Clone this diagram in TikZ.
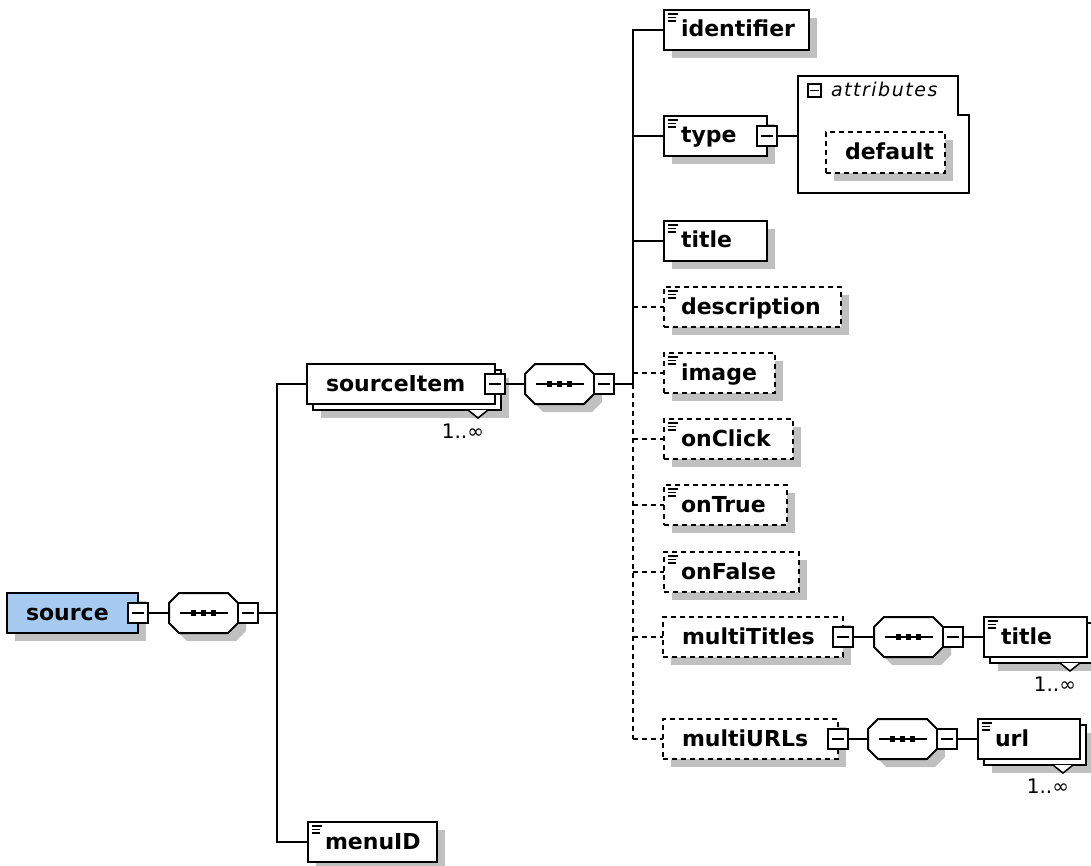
\documentclass[tikz,border=0pt]{standalone}
\usepackage{fontspec}
\newfontfamily\lblfont{DejaVu Sans}
\newfontfamily\attrfont{DejaVu Sans}[LetterSpace=8]
\definecolor{shadowgray}{RGB}{192,192,192}
\definecolor{rootblue}{RGB}{166,202,240}
\tikzset{
  every node/.style={outer sep=0pt},
  shadowed/.style={preaction={fill=shadowgray, draw=none, transform canvas={xshift=8pt,yshift=-8pt}}},
  ebox/.style={rectangle, draw, line width=2pt, fill=white, inner sep=0pt, minimum height=40pt, anchor=north west},
  optbox/.style={ebox, dash pattern=on 5pt off 4pt},
  rootbox/.style={ebox, fill=rootblue},
  minusbox/.style={rectangle, draw, line width=1.6pt, fill=white, minimum size=20pt, inner sep=0pt},
  smallminus/.style={rectangle, draw, line width=1.4pt, fill=white, minimum size=13pt, inner sep=0pt},
  seqbox/.style={rectangle, minimum width=69pt, minimum height=40pt, inner sep=0pt, anchor=north west},
  seqshape/.style={draw, line width=2pt, fill=white, shadowed},
  lbl/.style={font=\lblfont\bfseries\fontsize{22}{26}\selectfont, inner sep=0pt, anchor=base west},
  attrlbl/.style={font=\attrfont\itshape\fontsize{19}{22}\selectfont, inner sep=0pt, anchor=base west},
  occ/.style={font=\lblfont\fontsize{20}{24}\selectfont, inner sep=0pt, anchor=base east},
  conn/.style={line width=2pt, line cap=rect},
  optconn/.style={line width=2pt, dash pattern=on 5pt off 4pt},
  icon/.style={line width=1.4pt},
  frame/.style={draw, line width=2pt}
}
\newcommand\elicon[1]{%
  \draw[icon] ([shift={(4pt,-4pt)}]#1.north west) -- ++(10pt,0pt)
              ([shift={(4pt,-7.5pt)}]#1.north west) -- ++(8pt,0pt)
              ([shift={(4pt,-11pt)}]#1.north west) -- ++(8pt,0pt);}
\newcommand\seqgroup[3]{%
  \node[seqbox] (#1) at (#2,#3) {};
  \draw[seqshape] ([xshift=10pt]#1.north west) -- ([xshift=-10pt]#1.north east)
     -- ([yshift=-10pt]#1.north east) -- ([yshift=10pt]#1.south east)
     -- ([xshift=-10pt]#1.south east) -- ([xshift=10pt]#1.south west)
     -- ([yshift=10pt]#1.south west) -- ([yshift=-10pt]#1.north west) -- cycle;
  \draw[line width=1.6pt] ([xshift=-24pt]#1.center) -- ([xshift=24pt]#1.center);
  \foreach \dx in {-12.5,-2.5,7.5} \fill ([shift={(\dx pt,-3pt)}]#1.center) rectangle ++(5pt,6pt);}
\newcommand\occtri[1]{%
  \fill[white] ([xshift=-33pt]#1.south east) -- ([shift={(-23pt,-8pt)}]#1.south east) -- ([xshift=-13pt]#1.south east) -- cycle;
  \draw[line width=1.5pt] ([xshift=-33pt]#1.south east) -- ([shift={(-23pt,-8pt)}]#1.south east) -- ([xshift=-13pt]#1.south east);
  \node[occ] (#1-occ) at ([shift={(-17pt,-28pt)}]#1.south east) {1..∞};}
\begin{document}
\begin{tikzpicture}[x=1pt,y=-1pt]
\useasboundingbox (0,0) rectangle (1091,866);
% ---------- left part
\node[rootbox, shadowed, minimum width=131pt] (source) at (7,593) {};
\node[lbl] (source-t) at ([shift={(19pt,-27pt)}]source.north west) {source};
\seqgroup{seq1}{169}{593}
\node[ebox, shadowed, minimum width=188pt] (sourceItem-back) at (313,370) {};
\node[ebox, minimum width=188pt] (sourceItem) at (307,364) {};
\node[lbl] (sourceItem-t) at ([shift={(19pt,-27pt)}]sourceItem.north west) {sourceItem};
\occtri{sourceItem-back}
\seqgroup{seq2}{525}{364}
\node[ebox, shadowed, minimum width=129pt] (menuID) at (308,822) {};
\node[lbl] (menuID-t) at ([shift={(17pt,-27pt)}]menuID.north west) {menuID};
\elicon{menuID}
% ---------- right column
\node[ebox, shadowed, minimum width=145pt] (identifier) at (664,10) {};
\node[lbl] (identifier-t) at ([shift={(17pt,-27pt)}]identifier.north west) {identifier};
\elicon{identifier}
\node[ebox, shadowed, minimum width=103pt] (type) at (664,116) {};
\node[lbl] (type-t) at ([shift={(17pt,-27pt)}]type.north west) {type};
\elicon{type}
\node[rectangle, inner sep=0pt, minimum width=171pt, minimum height=117pt, anchor=north west] (attrs) at (798,76) {};
\draw[frame] (attrs.north west) -- ([xshift=-11pt]attrs.north east) -- ([shift={(-11pt,-39pt)}]attrs.north east)
   -- ([yshift=-39pt]attrs.north east) -- (attrs.south east) -- (attrs.south west) -- cycle;
\node[smallminus] (attrs-m) at (814.5,90.5) {\rule{9pt}{1.4pt}};
\node[attrlbl] (attrs-t) at (831,97) {attributes};
\node[optbox, shadowed, minimum width=119pt, minimum height=41pt] (default) at (826,132) {};
\node[lbl] (default-t) at ([shift={(19pt,-27.5pt)}]default.north west) {default};
\node[ebox, shadowed, minimum width=103pt] (title) at (664,221) {};
\node[lbl] (title-t) at ([shift={(17pt,-27pt)}]title.north west) {title};
\elicon{title}
\node[optbox, shadowed, minimum width=177pt] (description) at (664,287) {};
\node[lbl] (description-t) at ([shift={(17pt,-27pt)}]description.north west) {description};
\elicon{description}
\node[optbox, shadowed, minimum width=111pt] (image) at (664,353) {};
\node[lbl] (image-t) at ([shift={(17pt,-27pt)}]image.north west) {image};
\elicon{image}
\node[optbox, shadowed, minimum width=129pt] (onClick) at (664,419) {};
\node[lbl] (onClick-t) at ([shift={(17pt,-27pt)}]onClick.north west) {onClick};
\elicon{onClick}
\node[optbox, shadowed, minimum width=123pt] (onTrue) at (664,485) {};
\node[lbl] (onTrue-t) at ([shift={(17pt,-27pt)}]onTrue.north west) {onTrue};
\elicon{onTrue}
\node[optbox, shadowed, minimum width=135pt] (onFalse) at (664,552) {};
\node[lbl] (onFalse-t) at ([shift={(17pt,-27pt)}]onFalse.north west) {onFalse};
\elicon{onFalse}
\node[optbox, shadowed, minimum width=180pt] (multiTitles) at (663,617) {};
\node[lbl] (multiTitles-t) at ([shift={(19pt,-27pt)}]multiTitles.north west) {multiTitles};
\seqgroup{seq3}{874}{617}
\node[ebox, shadowed, minimum width=103pt] (title2-back) at (990,623) {};
\node[ebox, minimum width=103pt] (title2) at (984,617) {};
\node[lbl] (title2-t) at ([shift={(17pt,-27pt)}]title2.north west) {title};
\elicon{title2}
\occtri{title2-back}
\node[optbox, shadowed, minimum width=175pt] (multiURLs) at (663,719) {};
\node[lbl] (multiURLs-t) at ([shift={(19pt,-27pt)}]multiURLs.north west) {multiURLs};
\seqgroup{seq4}{868}{719}
\node[ebox, shadowed, minimum width=102pt] (url-back) at (984,725) {};
\node[ebox, minimum width=102pt] (url) at (978,719) {};
\node[lbl] (url-t) at ([shift={(17pt,-27pt)}]url.north west) {url};
\elicon{url}
\occtri{url-back}
% ---------- minus boxes
\node[minusbox] (m1) at (source.east) {\rule{12pt}{1.6pt}};
\node[minusbox] (m2) at ([xshift=10pt]seq1.east) {\rule{12pt}{1.6pt}};
\node[minusbox] (m3) at (sourceItem.east) {\rule{12pt}{1.6pt}};
\node[minusbox] (m4) at ([xshift=10pt]seq2.east) {\rule{12pt}{1.6pt}};
\node[minusbox] (m5) at (type.east) {\rule{12pt}{1.6pt}};
\node[minusbox] (m6) at (multiTitles.east) {\rule{12pt}{1.6pt}};
\node[minusbox] (m7) at ([xshift=10pt]seq3.east) {\rule{12pt}{1.6pt}};
\node[minusbox] (m8) at (multiURLs.east) {\rule{12pt}{1.6pt}};
\node[minusbox] (m9) at ([xshift=10pt]seq4.east) {\rule{12pt}{1.6pt}};
% ---------- connectors
\coordinate (va) at (277,384);
\coordinate (vb) at (277,842);
\coordinate (vc) at (633,30);
\coordinate (vd) at (633,384);
\coordinate (ve) at (633,739);
\draw[conn] (m1.east) -- (seq1.west);
\draw[conn] (m2.east) -- (m2.east -| va);
\draw[conn] (va) -- (vb);
\draw[conn] (va) -- (sourceItem.west);
\draw[conn] (vb) -- (menuID.west);
\draw[conn] (m3.east) -- (seq2.west);
\draw[conn] (m4.east) -- (vd);
\draw[conn] (vc) -- (vd);
\draw[optconn] (vd) -- (ve);
\draw[conn] (identifier.west -| vc) -- (identifier.west);
\draw[conn] (type.west -| vc) -- (type.west);
\draw[conn] (title.west -| vc) -- (title.west);
\draw[optconn] (description.west -| vc) -- (description.west);
\draw[optconn] (image.west -| vc) -- (image.west);
\draw[optconn] (onClick.west -| vc) -- (onClick.west);
\draw[optconn] (onTrue.west -| vc) -- (onTrue.west);
\draw[optconn] (onFalse.west -| vc) -- (onFalse.west);
\draw[optconn] (multiTitles.west -| vc) -- (multiTitles.west);
\draw[optconn] (multiURLs.west -| vc) -- (multiURLs.west);
\draw[conn] (m5.east) -- (m5.east -| attrs.west);
\draw[conn] (m6.east) -- (seq3.west);
\draw[conn] (m7.east) -- (title2.west);
\draw[conn] (m8.east) -- (seq4.west);
\draw[conn] (m9.east) -- (url.west);
\end{tikzpicture}
\end{document}
